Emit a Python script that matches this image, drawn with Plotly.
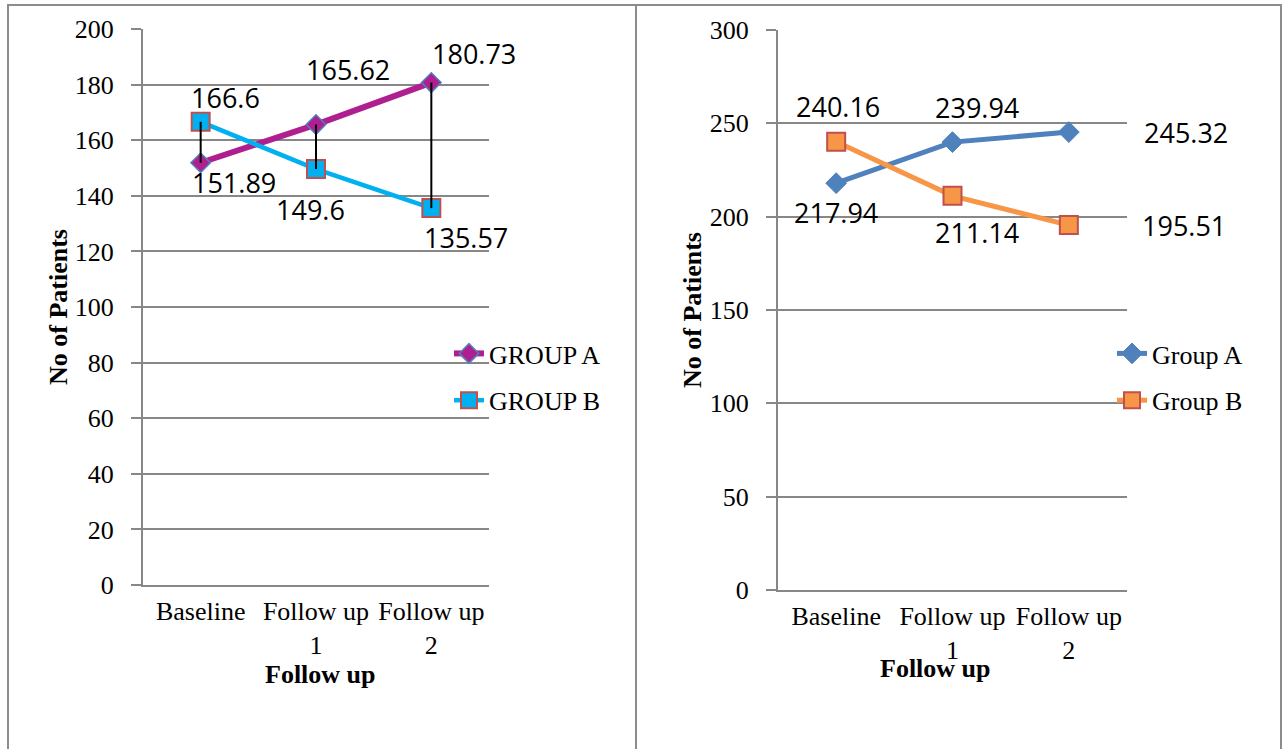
import plotly.graph_objects as go

# Follow-up time points shared by both panels
categories = ["Baseline", "Follow up<br>1", "Follow up<br>2"]

# Left panel (GROUP A / GROUP B)
left_group_a = [151.89, 165.62, 180.73]
left_group_b = [166.6, 149.6, 135.57]
left_names = ["GROUP A", "GROUP B"]
left_ticks = [0, 20, 40, 60, 80, 100, 120, 140, 160, 180, 200]

# Right panel (Group A / Group B)
right_group_a = [217.94, 239.94, 245.32]
right_group_b = [240.16, 211.14, 195.51]
right_names = ["Group A", "Group B"]
right_ticks = [0, 50, 100, 150, 200, 250, 300]

# Pixel offsets of the value labels relative to each point
left_a_offsets = [(33, -20), (32, 55), (43, 29)]
left_b_offsets = [(25, 24), (-6, -40), (35, -29)]
right_a_offsets = [(0, -29), (24, 35), (117, 0)]
right_b_offsets = [(2, 35), (24, -37), (115, 0)]

W, H = 1284, 749
SERIF = "Liberation Serif"
SANS = "Open Sans"
GRID = "#878787"


def px_x(v):
    return v / W


def px_y(v):
    return 1 - v / H


fig = go.Figure()

# ---- left panel series ----
fig.add_trace(go.Scatter(
    x=categories, y=left_group_a, name=left_names[0], mode="lines+markers",
    line=dict(color="#B01F8F", width=6),
    marker=dict(symbol="diamond", size=15, color="#B01F8F",
                line=dict(color="#4F81BD", width=1.5)),
    xaxis="x", yaxis="y", legend="legend", legendgroup="la",
))
fig.add_trace(go.Scatter(
    x=categories, y=left_group_b, name=left_names[1], mode="lines+markers",
    line=dict(color="#00B0F0", width=4.5),
    marker=dict(symbol="square", size=18, color="#00B0F0",
                line=dict(color="#C0504D", width=2)),
    xaxis="x", yaxis="y", legend="legend", legendgroup="lb",
))

# high-low connectors between the two groups at each time point
hl_x, hl_y = [], []
for c, a, b in zip(categories, left_group_a, left_group_b):
    hl_x += [c, c, None]
    hl_y += [a, b, None]
fig.add_trace(go.Scatter(
    x=hl_x, y=hl_y, mode="lines", line=dict(color="black", width=2),
    showlegend=False, hoverinfo="skip", xaxis="x", yaxis="y",
))

# ---- right panel series ----
fig.add_trace(go.Scatter(
    x=categories, y=right_group_a, name=right_names[0], mode="lines+markers",
    line=dict(color="#4F81BD", width=5),
    marker=dict(symbol="diamond", size=16, color="#4F81BD",
                line=dict(color="#4F81BD", width=1)),
    xaxis="x2", yaxis="y2", legend="legend2", legendgroup="ra",
))
fig.add_trace(go.Scatter(
    x=categories, y=right_group_b, name=right_names[1], mode="lines+markers",
    line=dict(color="#F79646", width=5),
    marker=dict(symbol="square", size=18, color="#F79646",
                line=dict(color="#C0504D", width=2)),
    xaxis="x2", yaxis="y2", legend="legend2", legendgroup="rb",
))

annotations = []


def add_labels(values, offsets, xref, yref):
    for c, v, (dx, dy) in zip(categories, values, offsets):
        annotations.append(dict(
            x=c, y=v, xref=xref, yref=yref, text=f"{v:g}", showarrow=False,
            xanchor="center", yanchor="middle",
            xshift=dx, yshift=dy, font=dict(family=SANS, size=27, color="black"),
        ))


add_labels(left_group_a, left_a_offsets, "x", "y")
add_labels(left_group_b, left_b_offsets, "x", "y")
add_labels(right_group_a, right_a_offsets, "x2", "y2")
add_labels(right_group_b, right_b_offsets, "x2", "y2")

# axis titles
for text, x, y in [("Follow up", 320, 674), ("Follow up", 935, 668)]:
    annotations.append(dict(
        x=px_x(x), y=px_y(y), xref="paper", yref="paper", text=f"<b>{text}</b>",
        showarrow=False, xanchor="center", yanchor="middle",
        font=dict(family=SERIF, size=26, color="black"),
    ))
for x, y in [(58, 307), (692, 310)]:
    annotations.append(dict(
        x=px_x(x), y=px_y(y), xref="paper", yref="paper", text="<b>No of Patients</b>",
        showarrow=False, textangle=-90, xanchor="center", yanchor="middle",
        font=dict(family=SERIF, size=26, color="black"),
    ))

# panel frames
shapes = [
    dict(type="rect", xref="paper", yref="paper", x0=px_x(8), x1=px_x(636),
         y0=-0.05, y1=px_y(5), line=dict(color="#8c8c8c", width=2)),
    dict(type="rect", xref="paper", yref="paper", x0=px_x(636), x1=px_x(1281),
         y0=-0.05, y1=px_y(5), line=dict(color="#8c8c8c", width=2)),
]

tick_font = dict(family=SERIF, size=26, color="black")


def y_axis(ticks, domain, anchor):
    return dict(
        domain=domain, anchor=anchor, range=[ticks[0], ticks[-1]], tickvals=ticks,
        showgrid=True, gridcolor=GRID, gridwidth=1.5, zeroline=False,
        showline=True, linecolor=GRID, linewidth=2,
        ticks="outside", ticklen=10, tickcolor=GRID, tickwidth=1.5,
        ticklabelstandoff=12, tickfont=tick_font, fixedrange=True, automargin=False,
    )


def x_axis(domain, anchor):
    return dict(
        domain=domain, anchor=anchor, type="category", range=[-0.5, 2.5],
        showgrid=False, showline=True, linecolor=GRID, linewidth=2,
        ticks="", ticklabelstandoff=2, tickfont=tick_font, fixedrange=True,
        automargin=False,
    )


legend_common = dict(
    font=dict(family=SERIF, size=26, color="black"), bgcolor="rgba(0,0,0,0)",
    tracegroupgap=10, xanchor="left", yanchor="middle", itemclick=False,
)

fig.update_layout(
    width=W, height=H, margin=dict(l=0, r=0, t=0, b=0, pad=0, autoexpand=False),
    paper_bgcolor="white", plot_bgcolor="white",
    xaxis=x_axis([px_x(143), px_x(489)], "y"),
    yaxis=y_axis(left_ticks, [px_y(585), px_y(29)], "x"),
    xaxis2=x_axis([px_x(778), px_x(1127)], "y2"),
    yaxis2=y_axis(right_ticks, [px_y(590), px_y(30)], "x2"),
    legend=dict(x=px_x(449), y=px_y(377), **legend_common),
    legend2=dict(x=px_x(1112), y=px_y(377), **legend_common),
    annotations=annotations, shapes=shapes, showlegend=True,
)

fig.write_html("out.html")
